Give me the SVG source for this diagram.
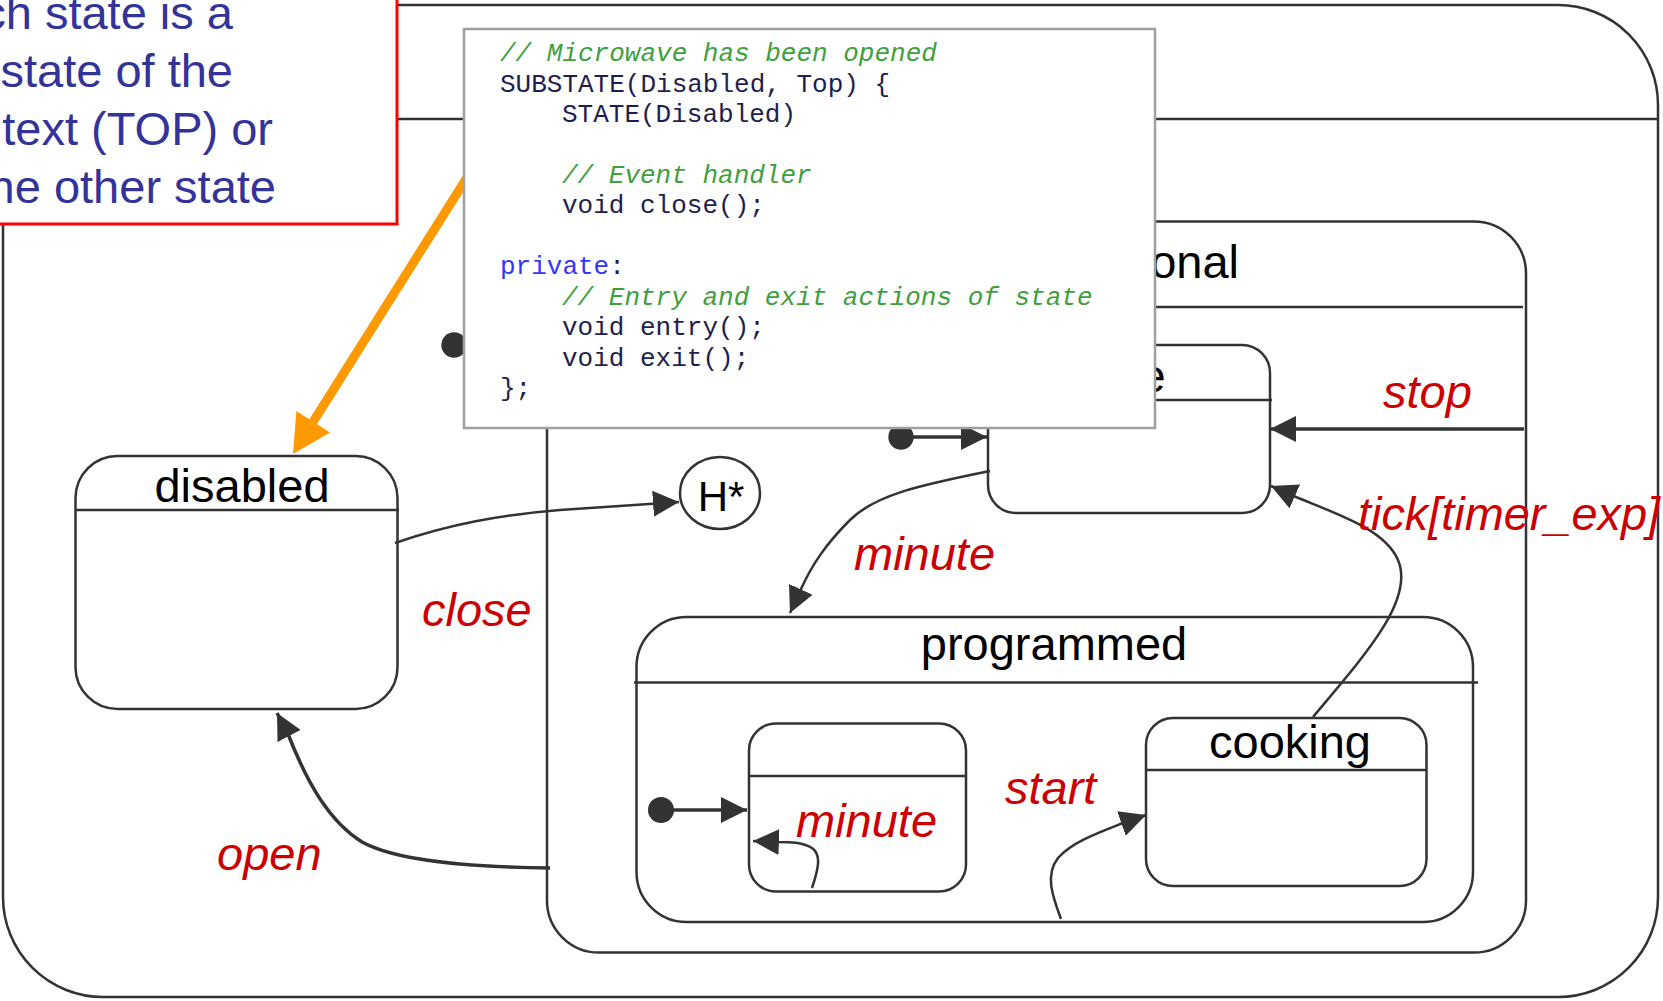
<svg xmlns="http://www.w3.org/2000/svg" width="1663" height="1001" viewBox="0 0 1663 1001">
<defs>
<style>
.box{fill:none;stroke:#333;stroke-width:2.5}
.ln{fill:none;stroke:#333;stroke-width:2.5}
.con{fill:none;stroke:#333;stroke-width:2.5;marker-end:url(#ah)}
.thick{stroke-width:3.5}
.name{font-family:"Liberation Sans",Arial,sans-serif;font-size:47px;fill:#000}
.lbl{font-family:"Liberation Sans",Arial,sans-serif;font-size:47px;font-style:italic;fill:#cc0000}
.note{font-family:"Liberation Sans",Arial,sans-serif;font-size:47px;fill:#333399;text-anchor:end}
.code{font-family:"Liberation Mono","Courier New",monospace;font-size:26px;fill:#1e1e4e}
.cm{fill:#3f9f3f;font-style:italic}
.kw{fill:#3535f5}
.dot{fill:#333}
</style>
<marker id="ah" viewBox="0 0 26 26" refX="26" refY="13" markerWidth="26" markerHeight="26" markerUnits="userSpaceOnUse" orient="auto">
<path d="M0,0 L26,13 L0,26 z" fill="#333"/>
</marker>
</defs>
<rect x="0" y="0" width="1663" height="1001" fill="#fff"/>

<g id="top">
<rect class="box" x="3" y="5" width="1655" height="992" rx="100" ry="100"/>
<line class="ln" x1="3" y1="119" x2="1658" y2="119"/>
</g>

<g id="disabled">
<rect class="box" x="75.5" y="456" width="322" height="253" rx="42" ry="42"/>
<line class="ln" x1="75.5" y1="510" x2="399" y2="510"/>
<text class="name" x="242" y="502" text-anchor="middle">disabled</text>
</g>

<g id="operational">
<rect class="box" x="547" y="221.5" width="979" height="731" rx="52" ry="52"/>
<line class="ln" x1="547" y1="307" x2="1523" y2="307"/>
<text class="name" x="1239" y="278" text-anchor="end">operational</text>
<circle class="dot" cx="454" cy="345" r="12.7"/>
</g>

<g id="history">
<ellipse class="box" cx="720" cy="493" rx="40" ry="36"/>
<text class="name" x="721" y="511" text-anchor="middle" style="font-size:42px">H*</text>
</g>

<g id="idle">
<rect class="box" x="988" y="345" width="282" height="168" rx="28" ry="28"/>
<line class="ln" x1="988" y1="400" x2="1272" y2="400"/>
<text class="name" x="1129" y="392" text-anchor="middle">idle</text>
</g>

<g id="programmed">
<rect class="box" x="636.5" y="617" width="836.5" height="305" rx="50" ry="50"/>
<line class="ln" x1="634" y1="682.5" x2="1478" y2="682.5"/>
<text class="name" x="1054" y="660" text-anchor="middle">programmed</text>
</g>

<g id="setting">
<rect class="box" x="749" y="723.5" width="217" height="168" rx="27" ry="27"/>
<line class="ln" x1="750" y1="776" x2="967" y2="776"/>
</g>

<g id="cooking">
<rect class="box" x="1146" y="718" width="280.5" height="168" rx="27" ry="27"/>
<line class="ln" x1="1146" y1="770" x2="1426.5" y2="770"/>
<text class="name" x="1290" y="758" text-anchor="middle">cooking</text>
</g>

<g id="connectors">
<path class="con" d="M395,543 C450,524 500,515 560,510 L679,502"/>
<path class="con thick" d="M550,868 C460,867 395,860 362,842 C330,822 308,785 288,734 L277,713"/>
<path class="con" d="M990,471 C920,485 875,495 850,520 C825,545 812,565 801,589 L790,613"/>
<path class="con thick" d="M1524,429 L1270,429"/>
<path class="con" d="M1313,717 C1365,655 1415,600 1398,560 C1385,530 1342,516 1296,497 L1271,486"/>
<circle class="dot" cx="901" cy="437" r="12.7"/>
<path class="con thick" d="M901,437 L987,437"/>
<circle class="dot" cx="661" cy="810" r="13"/>
<path class="con thick" d="M661,810 L747,810"/>
<path class="con" d="M812,888 C818,870 822,855 812,848 C802,842 790,842 778,842 L753,841"/>
<path class="con" d="M1061,919 C1052,895 1045,875 1058,858 C1072,842 1100,832 1123,823 L1146,815"/>
</g>

<g id="labels">
<text class="lbl" x="422" y="626">close</text>
<text class="lbl" x="217" y="870">open</text>
<text class="lbl" x="854" y="570">minute</text>
<text class="lbl" x="1383" y="408">stop</text>
<text class="lbl" x="1358" y="530" textLength="302" lengthAdjust="spacingAndGlyphs">tick[timer_exp]</text>
<text class="lbl" x="796" y="837">minute</text>
<text class="lbl" x="1005" y="804">start</text>
</g>

<g id="note">
<rect x="-10" y="-10" width="407" height="234" fill="#fff" stroke="#ff0000" stroke-width="3"/>
<text class="note" x="233" y="29">ch state is a</text>
<text class="note" x="233" y="87">state of the</text>
<text class="note" x="273" y="145">text (TOP) or</text>
<text class="note" x="276" y="203">he other state</text>
</g>

<g id="pointer">
<line x1="473" y1="168" x2="313" y2="422" stroke="#ff9900" stroke-width="9"/>
<polygon points="293,454 330,432.5 296.4,411.1" fill="#ff9900"/>
</g>

<g id="code">
<rect x="464" y="29" width="691" height="399" fill="#fff" stroke="#a0a0a0" stroke-width="2.5"/>
<text class="code cm" x="500" y="61">// Microwave has been opened</text>
<text class="code" x="500" y="91.5">SUBSTATE(Disabled, Top) {</text>
<text class="code" x="562" y="122">STATE(Disabled)</text>
<text class="code cm" x="562" y="183">// Event handler</text>
<text class="code" x="562" y="213">void close();</text>
<text class="code" x="500" y="274"><tspan class="kw">private</tspan>:</text>
<text class="code cm" x="562" y="304.5">// Entry and exit actions of state</text>
<text class="code" x="562" y="335">void entry();</text>
<text class="code" x="562" y="365.5">void exit();</text>
<text class="code" x="500" y="396">};</text>
</g>
</svg>
